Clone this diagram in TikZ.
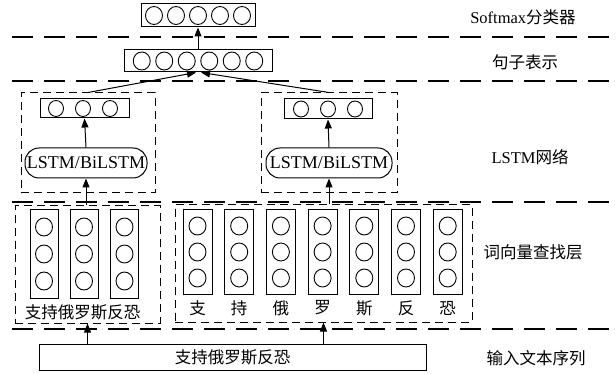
\documentclass[tikz,border=0pt]{standalone}
\usepackage{fontspec}
\setmainfont{Liberation Serif}
\newfontfamily\cjk{Noto Sans CJK SC}
\usetikzlibrary{arrows.meta,shapes.geometric}
\begin{document}
\begin{tikzpicture}[x=1pt,y=-1pt,
  sepline/.style={line width=1.1pt, dash pattern=on 21pt off 11pt},
  grp/.style={draw, line width=1pt, dash pattern=on 8pt off 5pt, inner sep=0pt},
  vbox/.style={draw, line width=1pt, inner sep=0pt},
  unit/.style={draw, ellipse, line width=0.9pt, minimum width=17pt, minimum height=18pt, inner sep=0pt},
  sunit/.style={draw, ellipse, line width=0.9pt, minimum width=15pt, minimum height=16pt, inner sep=0pt},
  lstmbox/.style={draw, line width=1pt, rounded corners=14pt, minimum height=30pt, inner sep=0pt, font=\fontsize{18}{18}\selectfont},
  arr/.style={-{Triangle[length=9pt,width=7pt]}, line width=1pt},
  lab/.style={font=\fontsize{16.5}{18}\selectfont},
  ch/.style={font=\cjk\fontsize{16.5}{18}\selectfont}]
\useasboundingbox (0,0) rectangle (616,374);

% separators
\draw[sepline] (12,37) -- (616,37);
\draw[sepline] (12,81) -- (616,81);
\draw[sepline] (12,202) -- (616,202);
\draw[sepline] (12,329) -- (616,329);

% softmax
\node[vbox, minimum width=114pt, minimum height=23pt] (softmax) at (198,15.5) {};
\foreach \i in {1,...,5} \node[unit] (sm\i) at (198+22*\i-66,15.5) {};

% sentence representation
\node[vbox, minimum width=148pt, minimum height=22pt] (sent) at (198,61) {};
\foreach \i in {1,...,6} \node[unit] (se\i) at (198+22.5*\i-78.75,61) {};

% LSTM groups
\node[grp, minimum width=134pt, minimum height=100pt] (lgrp) at (88,143) {};
\node[grp, minimum width=136pt, minimum height=100pt] (rgrp) at (329,143) {};

\node[vbox, minimum width=89pt, minimum height=19pt] (lsmall) at (84.5,108.5) {};
\foreach \i/\x in {1/56,2/83,3/110} \node[sunit] (ls\i) at (\x,108.5) {};
\node[vbox, minimum width=88pt, minimum height=20pt] (rsmall) at (328,109) {};
\foreach \i/\x in {1/301,2/328,3/355} \node[sunit] (rs\i) at (\x,109) {};

\node[lstmbox, minimum width=122pt] (llstm) at (86,163) {LSTM/BiLSTM};
\node[lstmbox, minimum width=126pt] (rlstm) at (329,163) {LSTM/BiLSTM};

% lookup groups
\node[grp, minimum width=145pt, minimum height=117pt] (llk) at (87.5,264.5) {};
\node[grp, minimum width=297pt, minimum height=117pt] (rlk) at (323.5,263.5) {};

\foreach \i/\x in {1/44,2/84,3/124.5} {
  \node[vbox, minimum width=28pt, minimum height=89pt] (lv\i) at (\x,254) {};
  \foreach \j/\y in {1/227,2/254,3/281} \node[unit] (lc\i\j) at (\x,\y) {};
}
\node[ch] (lword) at (82.5,312) {支持俄罗斯反恐};

\foreach \i/\c in {1/支,2/持,3/俄,4/罗,5/斯,6/反,7/恐} {
  \node[vbox, minimum width=29pt, minimum height=84pt] (rv\i) at (197.5+41.7*\i-41.7,252) {};
  \foreach \j/\y in {1/226,2/252,3/278} \node[unit] (rc\i\j) at (197.5+41.7*\i-41.7,\y) {};
  \node[ch] (rw\i) at (197.5+41.7*\i-41.7,308) {\c};
}

% input
\node[vbox, minimum width=387pt, minimum height=26pt, font=\cjk\fontsize{16.5}{18}\selectfont] (inp) at (232.5,357) {支持俄罗斯反恐};

% arrows
\draw[arr] (sent.north) -- (softmax.south);
\draw[arr] (lgrp.north) -- ([xshift=-2pt]sent.south);
\draw[arr] (rgrp.north) -- ([xshift=3pt]sent.south);
\draw[arr] (llstm.north) -- (lsmall.south);
\draw[arr] (rlstm.north) -- (rsmall.south);
\draw[arr] (llstm.south |- llk.north) -- (llstm.south);
\draw[arr] (rlstm.south |- rlk.north) -- (rlstm.south);
\draw[arr] (llk.south |- inp.north) -- (llk.south);
\draw[arr] (rlk.south |- inp.north) -- (rlk.south);

% layer labels
\node[lab] (t1) at (523,17) {Softmax{\cjk 分类器}};
\node[ch] (t2) at (525,62) {句子表示};
\node[lab] (t3) at (530,157) {LSTM{\cjk 网络}};
\node[ch] (t4) at (533,252) {词向量查找层};
\node[ch] (t5) at (536,358) {输入文本序列};
\end{tikzpicture}
\end{document}
